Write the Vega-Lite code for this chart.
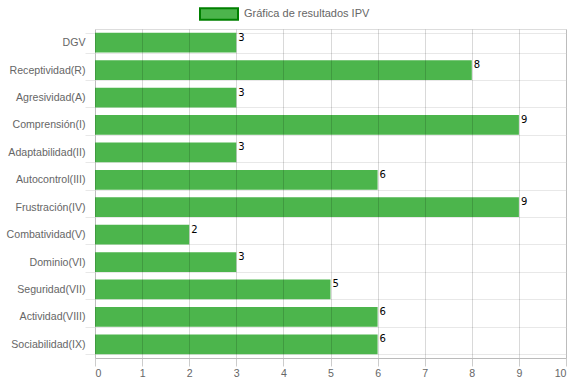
{
  "$schema": "https://vega.github.io/schema/vega-lite/v6.json",
  "width": 471,
  "height": 329,
  "autosize": {"type": "none"},
  "padding": {"left": 95, "top": 29, "right": 8, "bottom": 26},
  "data": {
    "values": [
      {"factor": "DGV", "valor": 3, "serie": "Gráfica de resultados IPV"},
      {"factor": "Receptividad(R)", "valor": 8, "serie": "Gráfica de resultados IPV"},
      {"factor": "Agresividad(A)", "valor": 3, "serie": "Gráfica de resultados IPV"},
      {"factor": "Comprensión(I)", "valor": 9, "serie": "Gráfica de resultados IPV"},
      {"factor": "Adaptabilidad(II)", "valor": 3, "serie": "Gráfica de resultados IPV"},
      {"factor": "Autocontrol(III)", "valor": 6, "serie": "Gráfica de resultados IPV"},
      {"factor": "Frustración(IV)", "valor": 9, "serie": "Gráfica de resultados IPV"},
      {"factor": "Combatividad(V)", "valor": 2, "serie": "Gráfica de resultados IPV"},
      {"factor": "Dominio(VI)", "valor": 3, "serie": "Gráfica de resultados IPV"},
      {"factor": "Seguridad(VII)", "valor": 5, "serie": "Gráfica de resultados IPV"},
      {"factor": "Actividad(VIII)", "valor": 6, "serie": "Gráfica de resultados IPV"},
      {"factor": "Sociabilidad(IX)", "valor": 6, "serie": "Gráfica de resultados IPV"}
    ]
  },
  "encoding": {
    "y": {
      "field": "factor",
      "type": "nominal",
      "sort": null,
      "scale": {"paddingInner": 0.28, "paddingOuter": 0.14},
      "axis": {
        "title": null,
        "tickBand": "extent",
        "grid": true,
        "gridColor": "#e8e8e8",
        "tickColor": "#e8e8e8",
        "tickSize": 10,
        "domain": false,
        "labelPadding": 0,
        "labelFontSize": 10.6,
        "labelColor": "#666666",
        "labelFont": "Liberation Sans"
      }
    },
    "x": {
      "field": "valor",
      "type": "quantitative",
      "scale": {"domain": [0, 10], "nice": false},
      "axis": {
        "title": null,
        "zindex": 1,
        "values": [0,1,2,3,4,5,6,7,8,9,10],
        "grid": true,
        "gridColor": "#000000",
        "gridOpacity": 0.15,
        "tickColor": "#cccccc",
        "tickSize": 8,
        "domainColor": "#bbbbbb",
        "labelPadding": 2,
        "labelFontSize": 10.6,
        "labelColor": "#666666",
        "labelFont": "Liberation Sans"
      }
    }
  },
  "layer": [
    {
      "mark": {"type": "bar", "strokeWidth": 0, "strokeOpacity": 0},
      "encoding": {
        "fill": {
          "field": "serie",
          "type": "nominal",
          "scale": {"range": ["#4cb54c"]},
          "legend": {
            "title": null,
            "orient": "none",
            "legendX": 104,
            "legendY": -35,
            "symbolType": "M-1,-0.3H1V0.3H-1Z",
            "symbolSize": 1444,
            "symbolStrokeWidth": 2,
            "labelFontSize": 11,
            "labelColor": "#666666",
            "labelFont": "Liberation Sans",
            "labelOffset": 5,
            "encode": {"symbols": {"update": {"strokeOpacity": {"value": 1}}}}
          }
        },
        "stroke": {
          "field": "serie",
          "type": "nominal",
          "scale": {"range": ["#008000"]}
        }
      }
    },
    {
      "mark": {"type": "text", "align": "left", "baseline": "middle", "dx": 2, "dy": -5, "fontSize": 10, "font": "DejaVu Sans", "color": "#000000"},
      "encoding": {
        "text": {"field": "valor", "type": "quantitative"}
      }
    }
  ]
}
